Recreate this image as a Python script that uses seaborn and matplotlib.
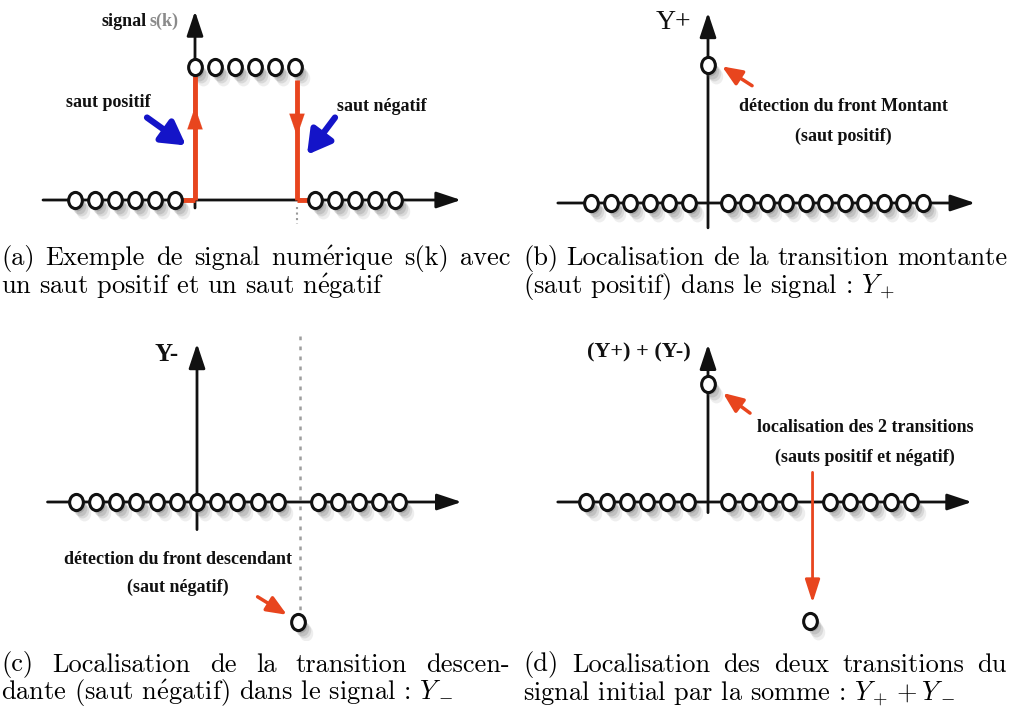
import matplotlib
matplotlib.use("Agg")
import matplotlib.pyplot as plt
import matplotlib.transforms as mtransforms
from matplotlib.path import Path
import seaborn as sns

# ---- data (sample index k, amplitude) ----
sig_k = [-6, -5, -4, -3, -2, -1, 0, 1, 2, 3, 4, 5, 6, 7, 8, 9, 10]
sig_s = [0, 0, 0, 0, 0, 0, 1, 1, 1, 1, 1, 1, 0, 0, 0, 0, 0]

yp_k = [-6, -5, -4, -3, -2, -1, 0, 1, 2, 3, 4, 5, 6, 7, 8, 9, 10, 11]
yp_s = [0, 0, 0, 0, 0, 0, 1, 0, 0, 0, 0, 0, 0, 0, 0, 0, 0, 0]

ym_k = [-6, -5, -4, -3, -2, -1, 0, 1, 2, 3, 4, 5, 6, 7, 8, 9, 10]
ym_s = [0, 0, 0, 0, 0, 0, 0, 0, 0, 0, 0, -1, 0, 0, 0, 0, 0]

ysum_k = [-6, -5, -4, -3, -2, -1, 0, 1, 2, 3, 4, 5, 6, 7, 8, 9, 10]
ysum_s = [0, 0, 0, 0, 0, 0, 1, 0, 0, 0, 0, -1, 0, 0, 0, 0, 0]

jump_up_k = 0
jump_down_k = 5

captions = {
    "a": ["(a) Exemple de signal numérique s(k) avec",
          "un saut positif et un saut négatif"],
    "b": ["(b) Localisation de la transition montante",
          r"(saut positif) dans le signal : $Y_+$"],
    "c": ["(c) Localisation de la transition descen-",
          r"dante (saut négatif) dans le signal : $Y_-$"],
    "d": ["(d) Localisation des deux transitions du",
          r"signal initial par la somme : $Y_+ + Y_-$"],
}

RED = "#e8451e"
BLUE = "#1414c8"
INK = "#111111"

sns.set_theme(style="white")
plt.rcParams["font.family"] = ["Liberation Serif", "DejaVu Serif"]
plt.rcParams["mathtext.fontset"] = "cm"

W, H = 1009, 709
fig = plt.figure(figsize=(W / 100, H / 100), dpi=100)
fig.patch.set_facecolor("white")

# slightly tall circle like the original drawing
ellipse = Path.unit_circle().transformed(mtransforms.Affine2D().scale(0.85, 1.0))


def make_panel(box, origin, sx, sy):
    left, top, right, bottom = box
    ox, oy = origin
    ax = fig.add_axes([left / W, 1 - bottom / H, (right - left) / W, (bottom - top) / H])
    ax.set_xlim((left - ox) / sx, (right - ox) / sx)
    ax.set_ylim((oy - bottom) / sy, (oy - top) / sy)
    ax.axis("off")
    return ax


def arrow(ax, start, end, color=INK, lw=2.0, scale=10, hl=1.5, hw=0.5, z=2):
    ax.annotate("", xy=end, xytext=start,
                arrowprops=dict(arrowstyle=f"-|>,head_length={hl},head_width={hw}",
                                color=color, lw=lw, shrinkA=0, shrinkB=0,
                                mutation_scale=scale),
                zorder=z, annotation_clip=False)


def draw_axes(ax, x0, x1, y0, y1):
    arrow(ax, (x0, 0), (x1, 0))
    arrow(ax, (0, y0), (0, y1))


def samples(ax, k, s):
    # blurred drop shadow, then the open circles
    for i, (dx, dy) in enumerate([(1.5, 2.0), (3.0, 4.0), (4.5, 6.0), (6.0, 8.0)]):
        tr = mtransforms.offset_copy(ax.transData, fig=fig, x=dx, y=-dy, units="points")
        ax.scatter(k, s, marker=ellipse, s=130, color="0.35", alpha=0.22 - 0.04 * i,
                   linewidths=0, transform=tr, zorder=3)
    sns.scatterplot(x=k, y=s, ax=ax, marker=ellipse, s=135, color="white",
                    edgecolor=INK, linewidth=2.2, zorder=5, legend=False)


def cm_text(line):
    # cmr10 has no precomposed accents: build é with mathtext
    return line.replace("é", r"$\acute{\mathrm{e}}$")


label_kw = dict(fontweight="bold", fontsize=13, color=INK, ha="center", va="center")

# ---- (a) signal s(k) ----
ax = make_panel((30, 0, 475, 230), (195, 200), 20.0, 133.0)
draw_axes(ax, -7.6, 13.3, -0.06, 1.42)
ax.plot([-0.7, 0], [0, 0], color=RED, lw=3.5, zorder=4, solid_capstyle="butt")
ax.plot([0, 0], [0, 0.93], color=RED, lw=3.5, zorder=4, solid_capstyle="butt")
arrow(ax, (0, 0.35), (0, 0.7), color=RED, lw=0.1, scale=10, hl=1.6, hw=0.55, z=4)
ax.plot([5.1, 5.1], [0.9, 0], color=RED, lw=3.5, zorder=4, solid_capstyle="butt")
ax.plot([5.1, 5.7], [0, 0], color=RED, lw=3.5, zorder=4, solid_capstyle="butt")
arrow(ax, (5.1, 0.8), (5.1, 0.48), color=RED, lw=0.1, scale=10, hl=1.6, hw=0.55, z=4)
ax.plot([5.1, 5.1], [-0.05, -0.18], color="0.6", lw=1.5, ls=":", zorder=1)
samples(ax, sig_k, sig_s)
arrow(ax, (-2.4, 0.62), (-0.45, 0.41), color=BLUE, lw=4.5, scale=10, hl=1.4, hw=0.8, z=4)
arrow(ax, (7.0, 0.62), (5.6, 0.34), color=BLUE, lw=4.5, scale=10, hl=1.4, hw=0.8, z=4)
ax.text(-2.4, 1.34, "signal", ha="right", va="center", fontweight="bold", fontsize=13, color=INK)
ax.text(-2.3, 1.34, "s(k)", ha="left", va="center", fontweight="bold", fontsize=13, color="#8a8a8a")
ax.text(-4.35, 0.73, "saut positif", **label_kw)
ax.text(9.35, 0.70, "saut négatif", **label_kw)

# ---- (b) Y+ ----
ax = make_panel((530, 0, 1009, 230), (708, 203), 19.5, 138.0)
draw_axes(ax, -7.7, 13.7, -0.18, 1.38)
samples(ax, yp_k, yp_s)
arrow(ax, (2.26, 0.85), (0.72, 0.99), color=RED, lw=2.5, scale=10, hl=1.2, hw=0.5, z=4)
ax.text(-1.75, 1.31, "Y+", ha="center", va="center", fontsize=20, color=INK)
ax.text(6.95, 0.70, "détection du front Montant", **label_kw)
ax.text(6.95, 0.48, "(saut positif)", **label_kw)

# ---- (c) Y- ----
ax = make_panel((30, 335, 475, 640), (197, 502), 20.2, 120.0)
draw_axes(ax, -7.4, 13.1, -0.23, 1.32)
ax.plot([5.1, 5.1], [1.38, -0.93], color="0.62", lw=1.8, ls=(0, (1.5, 2.5)), zorder=1)
samples(ax, ym_k, ym_s)
arrow(ax, (3.0, -0.79), (4.45, -0.94), color=RED, lw=2.5, scale=10, hl=1.2, hw=0.5, z=4)
ax.text(-1.5, 1.23, "Y-", ha="center", va="center", fontsize=18, fontweight="bold", color=INK)
ax.text(-0.95, -0.48, "détection du front descendant", **label_kw)
ax.text(-0.95, -0.71, "(saut négatif)", **label_kw)

# ---- (d) Y+ + Y- ----
ax = make_panel((530, 335, 1009, 640), (708, 502), 20.3, 118.5)
draw_axes(ax, -7.4, 13.0, -0.09, 1.33)
samples(ax, ysum_k, ysum_s)
arrow(ax, (2.07, 0.75), (0.74, 0.92), color=RED, lw=2.5, scale=10, hl=1.2, hw=0.5, z=4)
arrow(ax, (jump_down_k + 0.15, 0.25), (jump_down_k + 0.15, -0.85), color=RED, lw=2.0,
      scale=10, hl=1.4, hw=0.45, z=4)
ax.text(-0.85, 1.26, "(Y+) + (Y-)", ha="right", va="center", fontsize=16,
        fontweight="bold", color=INK)
ax.text(7.75, 0.63, "localisation des 2 transitions", **label_kw)
ax.text(7.75, 0.38, "(sauts positif et négatif)", **label_kw)

# ---- captions (first line justified to the column width, like LaTeX) ----
cap_pos = {"a": (1, 510, 258), "b": (523, 1007, 258), "c": (1, 510, 665), "d": (523, 1007, 665)}
cap_kw = dict(family=["cmr10", "DejaVu Serif"], fontsize=19, ha="left", va="center",
              color="black")
renderer = fig.canvas.get_renderer()
for key, lines in captions.items():
    x0, x1, y = cap_pos[key]
    words = lines[0].split(" ")
    texts = [fig.text(0, 1 - y / H, cm_text(w), **cap_kw) for w in words]
    widths = [t.get_window_extent(renderer).width for t in texts]
    gap = (x1 - x0 - sum(widths)) / (len(words) - 1)
    x = x0
    for t, w in zip(texts, widths):
        t.set_x(x / W)
        x += w + gap
    fig.text(x0 / W, 1 - (y + 28.5) / H, cm_text(lines[1]), **cap_kw)

fig.savefig("out.png", dpi=100, facecolor="white")
